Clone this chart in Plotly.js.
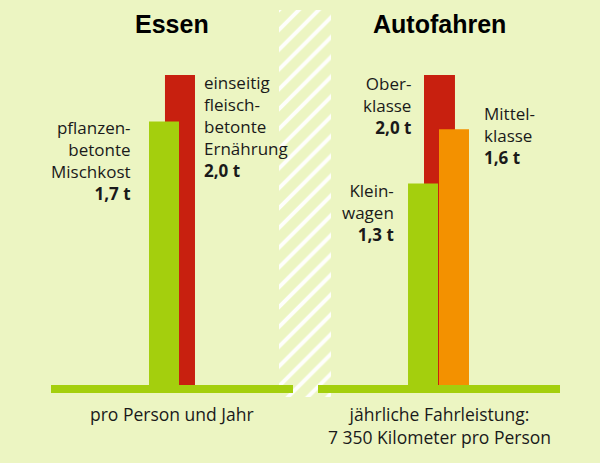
<!DOCTYPE html>
<html>
<head>
<meta charset="utf-8">
<script src="https://cdn.plot.ly/plotly-3.0.1.min.js"></script>
<style>
  html, body { margin: 0; padding: 0; background: #ecf5c2; }
  #chart { width: 600px; height: 463px; }
</style>
</head>
<body>
<div id="chart"></div>
<script>
// ---- data ----
const panelTitles = ['Essen', 'Autofahren'];
const essenCategories = ['einseitig fleischbetonte Ernährung', 'pflanzenbetonte Mischkost'];
const essenValues = [2.0, 1.7];
const essenValueLabels = ['2,0 t', '1,7 t'];
const autoCategories = ['Oberklasse', 'Mittelklasse', 'Kleinwagen'];
const autoValues = [2.0, 1.65, 1.3];
const autoValueLabels = ['2,0 t', '1,6 t', '1,3 t'];
const essenNote = 'pro Person und Jahr';
const autoNote = 'jährliche Fahrleistung:<br>7 350 Kilometer pro Person';

// ---- styling ----
const BG = '#ecf5c2';
const GREEN = '#a4cf0d';
const RED = '#c8200f';
const ORANGE = '#f39100';
const TXT = '#1a1a1a';
const W = 600, H = 463;
const px = v => v / W;
const py = v => 1 - v / H;

const yDomain = [py(385), py(13)];
const yRange = [0, 2.4];

const traces = [];
// striped separator band (first subplot so the baselines sit above it)
traces.push({
  type: 'bar', x: [0], y: [1], width: [1], xaxis: 'x', yaxis: 'y',
  marker: { color: BG, line: { width: 0 },
    pattern: { shape: '/', fgcolor: '#ffffff', bgcolor: BG, size: 14, solidity: 0.28, fgopacity: 0.95 } },
  hoverinfo: 'skip', showlegend: false
});

// Essen panel: red (behind), then green
const essenStyle = [
  { color: RED, offset: -0.029, width: 0.124 },
  { color: GREEN, offset: -0.095, width: 0.124 }
];
essenCategories.forEach((c, i) => {
  traces.push({
    type: 'bar', name: c, x: [panelTitles[0]], y: [essenValues[i]],
    xaxis: 'x2', yaxis: 'y2',
    offset: essenStyle[i].offset, width: essenStyle[i].width,
    marker: { color: essenStyle[i].color, line: { width: 0 } },
    hoverinfo: 'skip', showlegend: false
  });
});

// Autofahren panel: red (behind), orange, green
const autoStyle = [
  { color: RED, offset: -0.062, width: 0.128 },
  { color: ORANGE, offset: 0.0, width: 0.124 },
  { color: GREEN, offset: -0.128, width: 0.124 }
];
[0, 2, 1].forEach(i => {
  traces.push({
    type: 'bar', name: autoCategories[i], x: [panelTitles[1]], y: [autoValues[i]],
    xaxis: 'x3', yaxis: 'y3',
    offset: autoStyle[i].offset, width: autoStyle[i].width,
    marker: { color: autoStyle[i].color, line: { width: 0 } },
    hoverinfo: 'skip', showlegend: false
  });
});

const hidden = { showgrid: false, zeroline: false, showticklabels: false, ticks: '', showline: false, fixedrange: true };
const baseX = Object.assign({}, hidden, { type: 'category', range: [-0.5, 0.5], showline: true, linecolor: GREEN, linewidth: 8 });

const labelFont = { family: 'Open Sans, sans-serif', size: 17, color: TXT };
const titleFont = { family: 'Liberation Sans, Arial, sans-serif', size: 25, color: '#000000', weight: 'bold' };
const noteFont = { family: 'Open Sans, sans-serif', size: 17.5, color: TXT };

function lbl(name, val) {
  return name + '<br><b>' + val + '</b>';
}

const annotations = [
  { text: '<b>' + panelTitles[0] + '</b>', x: px(172), y: py(24), font: titleFont },
  { text: '<b>' + panelTitles[1] + '</b>', x: px(439), y: py(24), font: titleFont },
  { text: lbl('pflanzen-<br>betonte<br>Mischkost', essenValueLabels[1]), x: px(133), y: py(160), xanchor: 'right', align: 'right', font: labelFont },
  { text: lbl('einseitig<br>fleisch-<br>betonte<br>Ernährung', essenValueLabels[0]), x: px(202), y: py(126), xanchor: 'left', align: 'left', font: labelFont },
  { text: lbl('Ober-<br>klasse', autoValueLabels[0]), x: px(413), y: py(105), xanchor: 'right', align: 'right', font: labelFont },
  { text: lbl('Mittel-<br>klasse', autoValueLabels[1]), x: px(482), y: py(136), xanchor: 'left', align: 'left', font: labelFont },
  { text: lbl('Klein-<br>wagen', autoValueLabels[2]), x: px(396), y: py(213), xanchor: 'right', align: 'right', font: labelFont },
  { text: essenNote, x: px(172), y: py(414), font: noteFont },
  { text: autoNote, x: px(440), y: py(425), font: noteFont }
].map(a => Object.assign({ xref: 'paper', yref: 'paper', showarrow: false, xanchor: 'center', yanchor: 'middle' }, a));

const layout = {
  width: W, height: H,
  margin: { l: 0, r: 0, t: 0, b: 0, pad: 0 },
  paper_bgcolor: BG, plot_bgcolor: 'rgba(0,0,0,0)',
  barmode: 'overlay', showlegend: false,
  xaxis: Object.assign({}, hidden, { domain: [px(279), px(331)], range: [-0.5, 0.5] }),
  yaxis: Object.assign({}, hidden, { domain: [py(397), py(10)], range: [0, 1] }),
  xaxis2: Object.assign({}, baseX, { domain: [px(51), px(293)], anchor: 'y2' }),
  yaxis2: Object.assign({}, hidden, { domain: yDomain, range: yRange, anchor: 'x2' }),
  xaxis3: Object.assign({}, baseX, { domain: [px(318), px(560)], anchor: 'y3' }),
  yaxis3: Object.assign({}, hidden, { domain: yDomain, range: yRange, anchor: 'x3' }),
  annotations: annotations
};

Plotly.newPlot('chart', traces, layout, { staticPlot: true, displayModeBar: false });
</script>
</body>
</html>
